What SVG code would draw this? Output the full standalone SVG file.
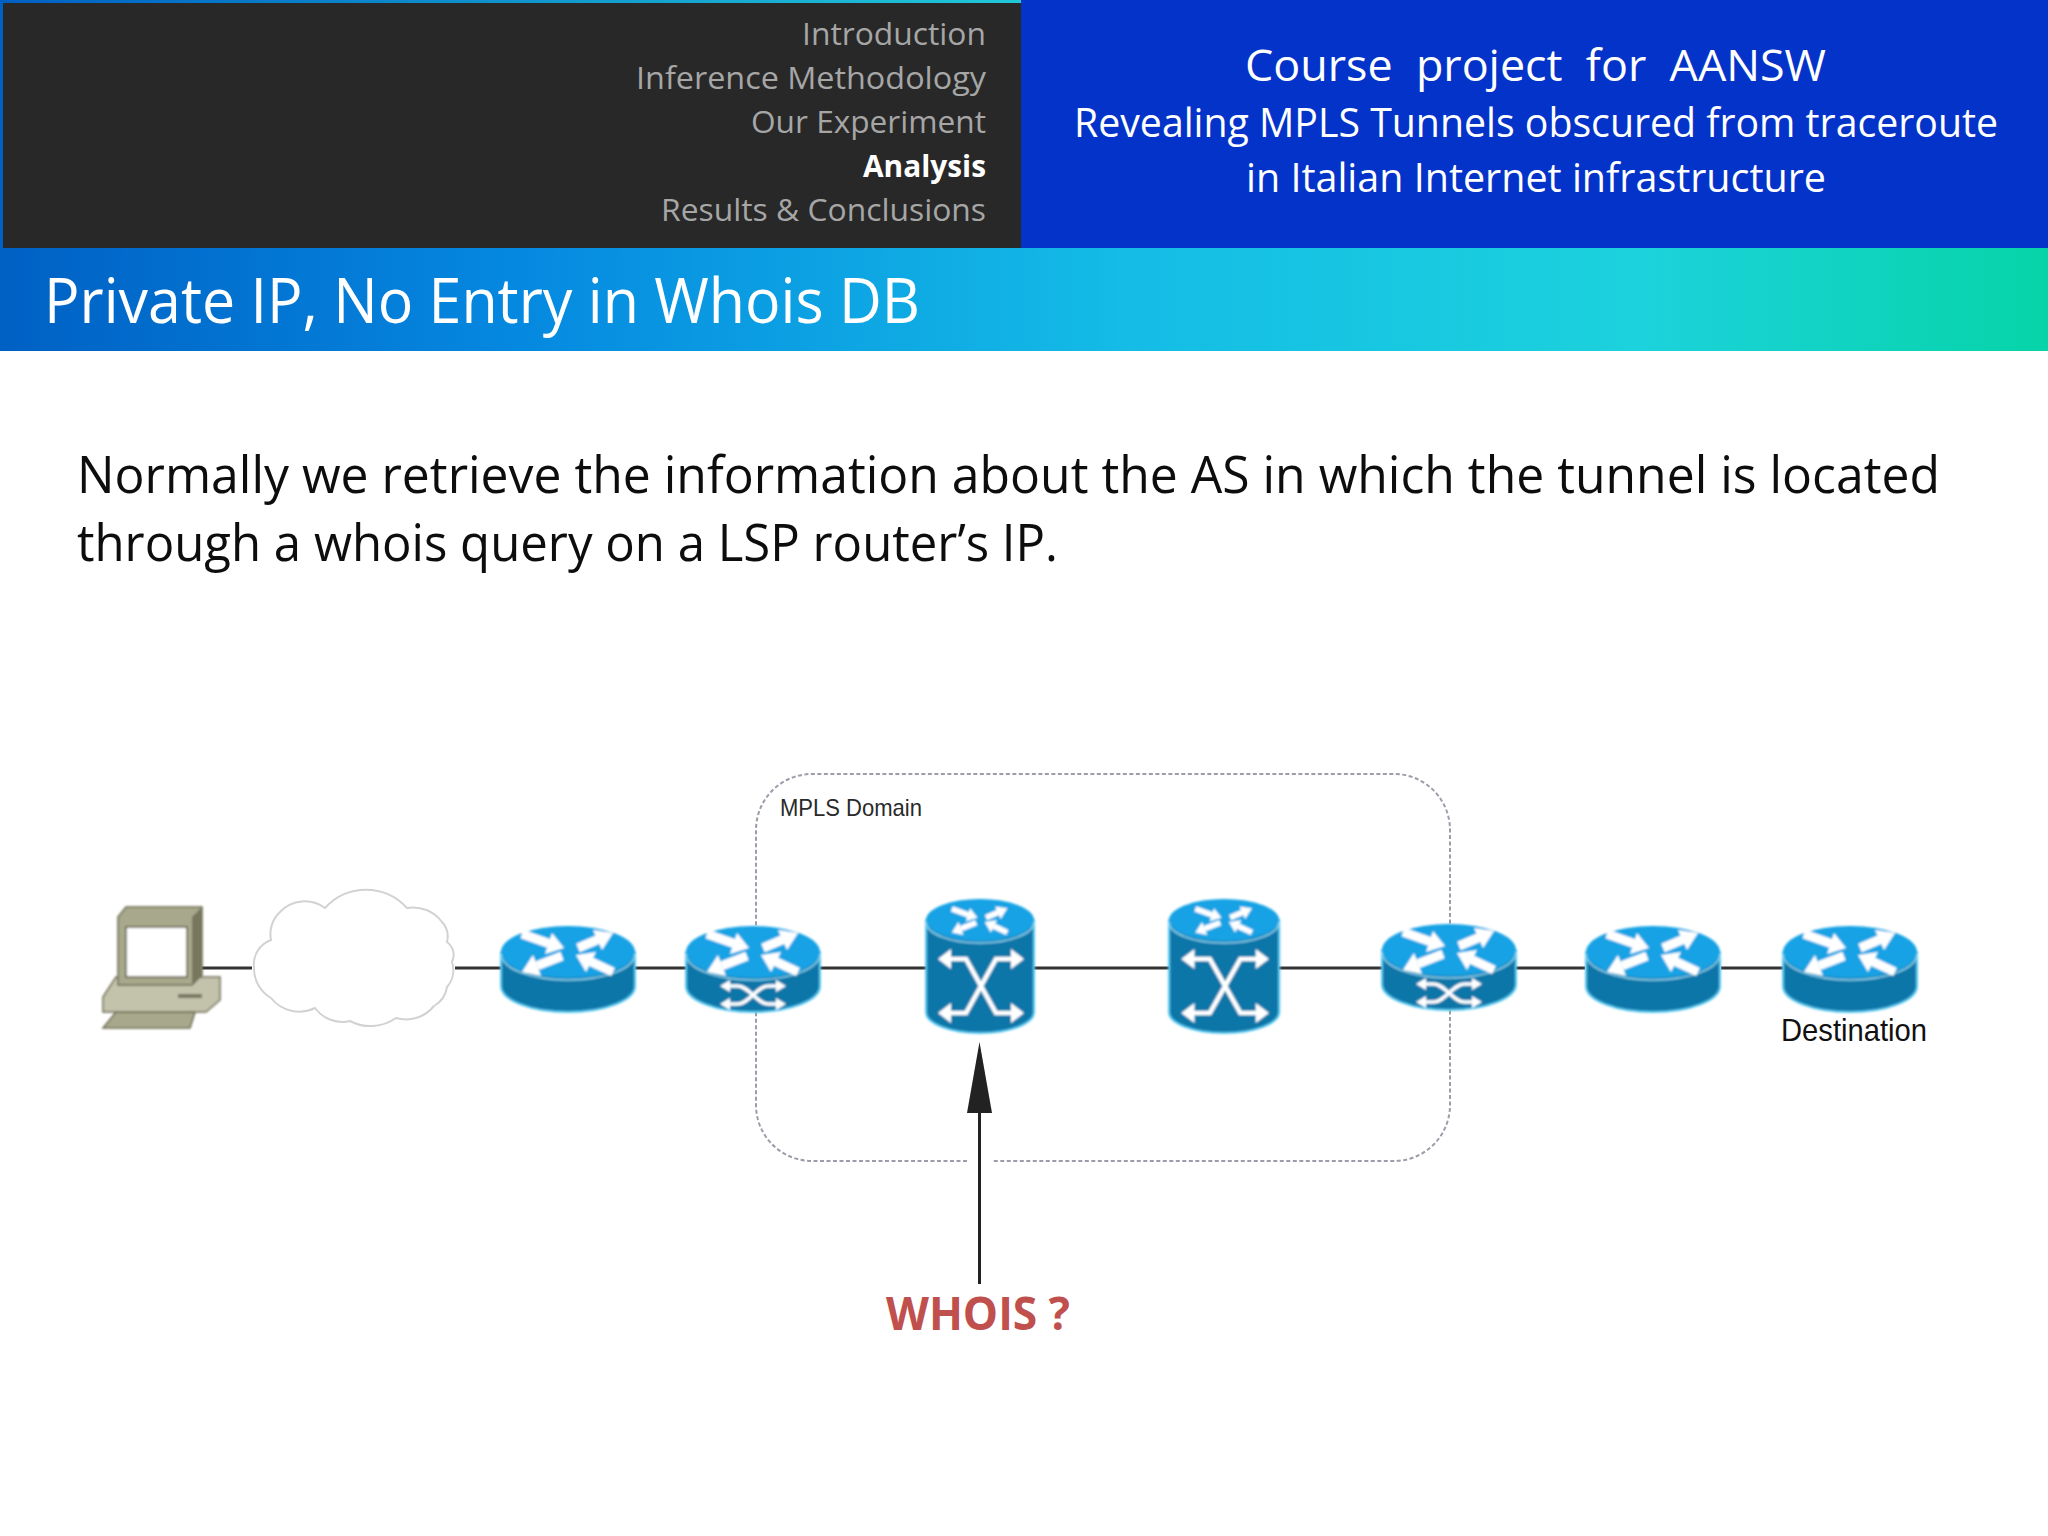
<svg xmlns="http://www.w3.org/2000/svg" width="2048" height="1536" viewBox="0 0 2048 1536">
<style>
text{font-family:"Open Sans","Noto Sans","Liberation Sans",sans-serif;white-space:pre}
.menu{font-size:31px;fill:#a6a6a6}
.hdr{fill:#fff}
.body{font-size:52px;fill:#0d0d0d}
.lbl{font-family:"Liberation Sans",Arial,sans-serif;fill:#2a2a2a}
.ln{stroke:#333;stroke-width:3;fill:none}
.dom{stroke:#9c9caa;stroke-width:2;stroke-dasharray:4 2.500;fill:none}
.w{stroke:#fff;fill:none}
.wf{fill:#fff}
.soft{filter:url(#glow)}
</style>
<defs>
<linearGradient id="band" x1="0" x2="1" y1="0" y2="0">
<stop offset="0" stop-color="#0060c4"/><stop offset=".25" stop-color="#0588e0"/><stop offset=".55" stop-color="#14bce6"/><stop offset=".8" stop-color="#1cd2dc"/><stop offset="1" stop-color="#06d4a8"/>
</linearGradient>
<linearGradient id="strip" x1="0" x2="1" y1="0" y2="0">
<stop offset="0" stop-color="#0060c4"/><stop offset="1" stop-color="#20c8d8"/>
</linearGradient>
<filter id="glow" x="-15%" y="-15%" width="130%" height="130%"><feGaussianBlur stdDeviation="0.8"/></filter>
<g id="arrows">
<path class="w" stroke-width="9" d="M21,8L48,17.5M77,22L97,13.5M61,30L36,39.800M112,46L89.700,35.700"/>
<path class="wf" d="M63,22L44,28L51,7ZM112,7L101,24L92,4ZM21,46L40,50L32,29ZM75,29L85,46L95,26Z"/>
</g>
<g id="router">
<path d="M0,26V60A67,26 0 0 0 134,60V26Z" fill="#0d76a8" stroke="#55c8f0" stroke-width="2"/>
<ellipse cx="67" cy="26" rx="67" ry="26" fill="#12a2e4"/>
<path d="M0,28A67,26 0 0 0 134,28" fill="none" stroke="#8fd8f4" stroke-width="1.500"/>
<use href="#arrows"/>
</g>
<g id="xcross">
<path class="w" stroke-width="3.500" d="M42,60H52C62,60 72,78 82,78H92M42,78H52C62,78 72,60 82,60H92"/>
<path class="wf" d="M34,60L44,54V66ZM100,60L90,54V66ZM34,78L44,72V84ZM100,78L90,72V84Z"/>
</g>
<g id="cyl">
<path d="M0,21V113A54,21 0 0 0 108,113V21Z" fill="#0d76a8" stroke="#55c8f0" stroke-width="2"/>
<ellipse cx="54" cy="21" rx="54" ry="21" fill="#12a2e4"/>
<path d="M0,23A54,21 0 0 0 108,23" fill="none" stroke="#8fd8f4" stroke-width="1.500"/>
<use href="#arrows" transform="translate(13,5) scale(.61,.62)"/>
<path class="w" stroke-width="4.500" d="M22,60H40L70,114H88M88,60H70L40,114H22"/>
<path class="wf" d="M12,60L25,50V70ZM98,60L85,50V70ZM12,114L25,104V124ZM98,114L85,104V124Z"/>
</g>
</defs>
<rect width="2048" height="1536" fill="#fff"/>
<g id="header">
<rect x="1021" y="0" width="1027" height="248" fill="#0433c9"/>
<rect x="0" y="0" width="1021" height="3" fill="url(#strip)"/>
<rect x="0" y="0" width="3" height="250" fill="#0060c4"/>
<rect x="3" y="3" width="1018" height="246" fill="#282828"/>
<rect x="0" y="248" width="2048" height="103" fill="url(#band)"/>
<text class="menu" x="802" y="45" textLength="184" lengthAdjust="spacingAndGlyphs">Introduction</text>
<text class="menu" x="636" y="89" textLength="350" lengthAdjust="spacingAndGlyphs">Inference Methodology</text>
<text class="menu" x="751" y="133" textLength="235" lengthAdjust="spacingAndGlyphs">Our Experiment</text>
<text class="menu" x="863" y="177" textLength="123" lengthAdjust="spacingAndGlyphs" style="fill:#fff;font-weight:700">Analysis</text>
<text class="menu" x="661" y="221" textLength="325" lengthAdjust="spacingAndGlyphs">Results &amp; Conclusions</text>
<text class="hdr" x="1245" y="81" font-size="43" textLength="581" lengthAdjust="spacingAndGlyphs">Course  project  for  AANSW</text>
<text class="hdr" x="1074" y="137" font-size="40" textLength="924" lengthAdjust="spacingAndGlyphs">Revealing MPLS Tunnels obscured from traceroute</text>
<text class="hdr" x="1246" y="192" font-size="40" textLength="580" lengthAdjust="spacingAndGlyphs">in Italian Internet infrastructure</text>
<text class="hdr" x="44" y="323" font-size="62" textLength="876" lengthAdjust="spacingAndGlyphs">Private IP, No Entry in Whois DB</text>
</g>
<g id="body-text">
<text class="body" x="77" y="493" textLength="1863" lengthAdjust="spacingAndGlyphs">Normally we retrieve the information about the AS in which the tunnel is located</text>
<text class="body" x="77" y="561" textLength="981" lengthAdjust="spacingAndGlyphs">through a whois query on a LSP router’s IP.</text>
</g>
<g id="connectors">
<path class="ln" d="M202,968H252M455,968H501M635,968H686M820,968H926M1034,968H1169M1279,968H1382M1516,968H1585M1721,968H1783"/>
<path id="whois-arrow" d="M979.500,1113V1284" stroke="#222" stroke-width="3" fill="none"/>
<path d="M979.500,1042L992,1113H967Z" fill="#222"/>
</g>
<g id="mpls-domain">
<path class="dom" d="M967,1161H812A56,56 0 0 1 756,1105V830A56,56 0 0 1 812,774H1394A56,56 0 0 1 1450,830V1105A56,56 0 0 1 1394,1161H992"/>
<text class="lbl" x="780" y="816" font-size="24" textLength="142" lengthAdjust="spacingAndGlyphs">MPLS Domain</text>
</g>
<g id="computer" class="soft">
<path d="M116,1012H195L190,1028H103Z" fill="#a8a88c" stroke="#6b6b52" stroke-width="1.500"/>
<path d="M103,997L116,977H220V1000L206,1012H103Z" fill="#c3c3ac" stroke="#6b6b52" stroke-width="1.500"/>
<rect x="178" y="994" width="24" height="4" fill="#77775f"/>
<path d="M118,917L126,907H202V975L192,985H118Z" fill="#a8a88c" stroke="#6b6b52" stroke-width="1.500"/>
<path d="M192,917L202,907V975L192,985Z" fill="#77775f"/>
<rect x="126" y="927" width="61" height="50" fill="#fff" stroke="#5a5a45" stroke-width="1.500"/>
</g>
<g id="cloud">
<path d="M254,968A26,26 0 0 1 271,940A30,30 0 0 1 280,912A34,34 0 0 1 325,908A55,55 0 0 1 407,908A36,36 0 0 1 442,922A22,22 0 0 1 447,942A16,16 0 0 1 452,962A26,26 0 0 1 447,987A26,26 0 0 1 434,1006A36,36 0 0 1 396,1018A44,44 0 0 1 350,1021A34,34 0 0 1 315,1008A36,36 0 0 1 271,998A34,34 0 0 1 254,968Z" fill="#fff" stroke="#d2d2d2" stroke-width="2"/>
</g>
<g id="router-1" class="soft" transform="translate(501,926)"><use href="#router"/></g>
<g id="edge-router-1" class="soft" transform="translate(686,926)"><use href="#router"/><use href="#xcross"/></g>
<g id="lsr-1" class="soft" transform="translate(926,899)"><use href="#cyl"/></g>
<g id="lsr-2" class="soft" transform="translate(1169,899) scale(1.02,1)"><use href="#cyl"/></g>
<g id="edge-router-2" class="soft" transform="translate(1382,924)"><use href="#router"/><use href="#xcross"/></g>
<g id="router-2" class="soft" transform="translate(1586,926)"><use href="#router"/></g>
<g id="destination" class="soft" transform="translate(1783,926)"><use href="#router"/></g>
<text class="lbl" x="1781" y="1041" font-size="32" textLength="146" lengthAdjust="spacingAndGlyphs" style="fill:#111">Destination</text>
<text id="whois-label" x="886" y="1330" font-size="46" font-weight="700" fill="#c0504d" textLength="184" lengthAdjust="spacingAndGlyphs">WHOIS ?</text>
</svg>
